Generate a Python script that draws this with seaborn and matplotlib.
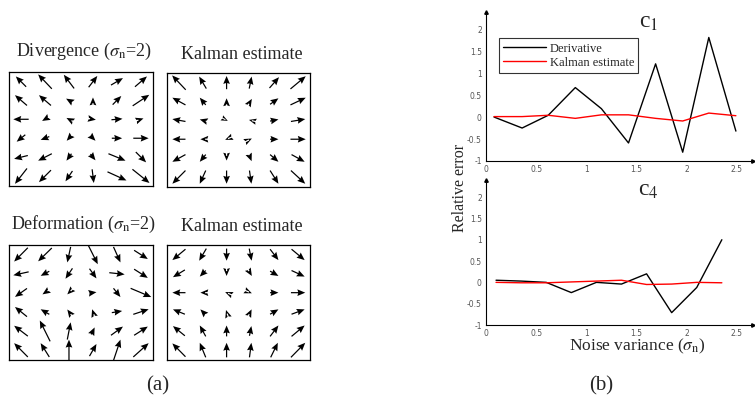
import numpy as np
import pandas as pd
import matplotlib
matplotlib.use('Agg')
import matplotlib.pyplot as plt
import seaborn as sns

# ---- quiver fields (6x6, rows top -> bottom) ----
grid_x = [0.5, 1.5, 2.5, 3.5, 4.5, 5.5]
grid_y = [4.35, 3.57, 2.78, 1.99, 1.20, 0.41]

div_u = [[-0.43, -0.57, -0.43, 0.36, 0.50, 0.50],
         [-0.50, -0.50, -0.24, 0.00, 0.36, 0.69],
         [-0.64, -0.24, -0.21, 0.24, 0.46, 0.21],
         [-0.36, -0.36, -0.19, 0.21, 0.43, 0.64],
         [-0.57, -0.57, -0.21, 0.21, 0.71, 0.43],
         [-0.50, -0.50, -0.29, 0.07, 0.79, 0.71]]
div_v = [[0.43, 0.60, 0.57, 0.47, 0.29, 0.43],
         [0.43, 0.43, 0.14, 0.24, 0.36, 0.46],
         [0.00, -0.14, 0.11, -0.04, 0.04, 0.07],
         [-0.29, -0.14, -0.21, -0.21, 0.00, 0.00],
         [-0.14, -0.29, -0.29, -0.26, -0.29, -0.43],
         [-0.64, -0.50, -0.43, -0.57, -0.36, -0.57]]

kdiv_u = [[-0.57, -0.30, 0.00, 0.10, 0.40, 0.64],
          [-0.55, -0.25, 0.00, 0.12, 0.35, 0.64],
          [-0.55, -0.25, 0.10, -0.12, 0.35, 0.60],
          [-0.55, -0.20, -0.12, 0.12, 0.35, 0.64],
          [-0.55, -0.25, 0.00, 0.10, 0.35, 0.55],
          [-0.55, -0.25, 0.00, 0.08, 0.35, 0.60]]
kdiv_v = [[0.60, 0.50, 0.55, 0.50, 0.45, 0.53],
          [0.30, 0.30, 0.25, 0.20, 0.25, 0.30],
          [0.10, 0.07, -0.05, 0.03, 0.07, 0.10],
          [0.00, 0.00, -0.05, 0.06, 0.00, 0.00],
          [-0.30, -0.30, -0.20, -0.25, -0.30, -0.30],
          [-0.55, -0.55, -0.55, -0.55, -0.55, -0.55]]

def_u = [[-0.57, -0.57, -0.14, 0.40, 0.29, 0.57],
         [-0.64, -0.36, -0.29, 0.29, 0.64, 0.57],
         [-0.50, -0.21, -0.14, 0.29, 0.29, 0.86],
         [-0.50, -0.36, -0.14, -0.07, 0.43, 0.64],
         [-0.57, -0.43, 0.14, 0.14, 0.50, 0.57],
         [-0.57, -0.36, 0.00, 0.29, 0.29, 0.64]]
def_v = [[-0.57, -0.55, -0.64, -0.79, -0.64, -0.36],
         [-0.14, -0.19, -0.43, -0.40, -0.07, -0.36],
         [-0.35, -0.14, -0.14, 0.04, -0.36, -0.36],
         [0.40, 0.21, 0.19, 0.21, 0.07, 0.21],
         [0.43, 0.86, 0.71, 0.29, 0.36, 0.36],
         [0.57, 0.57, 0.86, 0.50, 0.86, 0.57]]

kdef_u = [[-0.55, -0.30, 0.00, 0.10, 0.35, 0.55],
          [-0.50, -0.25, 0.00, 0.12, 0.35, 0.55],
          [-0.55, -0.20, -0.12, 0.12, 0.35, 0.60],
          [-0.50, -0.20, -0.05, 0.10, 0.35, 0.55],
          [-0.50, -0.25, 0.00, 0.08, 0.35, 0.55],
          [-0.55, -0.25, 0.00, 0.08, 0.30, 0.60]]
kdef_v = [[-0.45, -0.50, -0.50, -0.50, -0.45, -0.45],
          [-0.30, -0.25, -0.20, -0.20, -0.20, -0.25],
          [0.00, 0.00, 0.05, -0.05, 0.00, 0.00],
          [0.20, 0.20, 0.15, 0.20, 0.20, 0.20],
          [0.40, 0.45, 0.45, 0.40, 0.45, 0.45],
          [0.55, 0.60, 0.60, 0.60, 0.60, 0.60]]

# ---- relative error curves ----
c1_x = [0.08, 0.36, 0.62, 0.89, 1.15, 1.42, 1.69, 1.96, 2.22, 2.49]
c1_deriv = [0.00, -0.25, 0.04, 0.67, 0.19, -0.59, 1.21, -0.80, 1.81, -0.32]
c1_kalman = [0.01, 0.01, 0.04, -0.03, 0.05, 0.05, -0.03, -0.09, 0.09, 0.03]

c4_x = [0.10, 0.35, 0.60, 0.85, 1.10, 1.35, 1.60, 1.85, 2.10, 2.35]
c4_deriv = [0.05, 0.03, 0.00, -0.24, 0.00, -0.04, 0.20, -0.71, -0.12, 1.00]
c4_kalman = [0.00, -0.01, -0.01, 0.01, 0.03, 0.05, -0.05, -0.04, 0.00, -0.01]

sns.set_style('white')
plt.rcParams['font.family'] = ['Liberation Serif', 'DejaVu Serif']
plt.rcParams['mathtext.fontset'] = 'stix'

fig = plt.figure(figsize=(7.55, 3.98), dpi=100)

def field(rect, u, v, title):
    ax = fig.add_axes(rect)
    X, Y = np.meshgrid(grid_x, grid_y)
    ax.quiver(X, Y, np.array(u), np.array(v), angles='xy', scale_units='xy',
              scale=1, pivot='mid', color='black', width=0.0085,
              headwidth=5.5, headlength=6.5, headaxislength=5.8,
              minshaft=0.4, minlength=0.3)
    ax.set_xlim(0, 6)
    ax.set_ylim(0, 4.75)
    ax.set_xticks([])
    ax.set_yticks([])
    for s in ax.spines.values():
        s.set_visible(True)
        s.set_color('black')
        s.set_linewidth(0.9)
    ax.text(0.52, 1.09, title, transform=ax.transAxes, ha='center', va='bottom',
            fontsize=13)
    return ax

field([0.0119, 0.5327, 0.1907, 0.2864], div_u, div_v, r'Divergence ($\sigma_{\rm n}$=2)')
field([0.2212, 0.5302, 0.1894, 0.2864], kdiv_u, kdiv_v, 'Kalman estimate')
field([0.0119, 0.0955, 0.1907, 0.2890], def_u, def_v, r'Deformation ($\sigma_{\rm n}$=2)')
field([0.2212, 0.0955, 0.1894, 0.2890], kdef_u, kdef_v, 'Kalman estimate')


def err_panel(rect, x, deriv, kalman, label, ytop, legend):
    ax = fig.add_axes(rect)
    df = pd.DataFrame({'x': x + x,
                       'y': deriv + kalman,
                       'series': ['Derivative'] * len(x) + ['Kalman estimate'] * len(x)})
    sns.lineplot(data=df, x='x', y='y', hue='series',
                 palette={'Derivative': 'black', 'Kalman estimate': '#ff0000'},
                 linewidth=1.0, ax=ax, legend=legend)
    ax.set_xlim(0, 2.66)
    ax.set_ylim(-1, ytop)
    ax.set_xticks([0, 0.5, 1, 1.5, 2, 2.5])
    ax.set_xticklabels(['0', '0.5', '1', '1.5', '2', '2.5'])
    ax.set_yticks([-1, -0.5, 0, 0.5, 1, 1.5, 2])
    ax.set_yticklabels(['-1', '-0.5', '0', '0.5', '1', '1.5', '2'])
    ax.tick_params(length=0, labelsize=5.5, colors='#555555', pad=3)
    for t in ax.get_xticklabels() + ax.get_yticklabels():
        t.set_family('DejaVu Sans')
    ax.set_xlabel('')
    ax.set_ylabel('')
    for side in ['top', 'right']:
        ax.spines[side].set_visible(False)
    for side in ['left', 'bottom']:
        ax.spines[side].set_color('black')
        ax.spines[side].set_linewidth(0.8)
    ax.plot(1, 0, '>', color='black', ms=2.5, transform=ax.transAxes, clip_on=False)
    ax.plot(0, 1, '^', color='black', ms=2.5, transform=ax.transAxes, clip_on=False)
    ax.text(0.61, 0.93, label, transform=ax.transAxes, ha='center', va='center',
            fontsize=17)
    if legend:
        ax.legend(loc='upper left', bbox_to_anchor=(0.025, 0.865), fontsize=9,
                  frameon=True, fancybox=False, edgecolor='black', handlelength=3.4,
                  borderpad=0.35, labelspacing=0.15, handletextpad=0.3, title=None)
        ax.get_legend().get_frame().set_linewidth(0.8)
    return ax

err_panel([0.6437, 0.5955, 0.3536, 0.3744], c1_x, c1_deriv, c1_kalman,
          r'c$_1$', 2.39, 'brief')
err_panel([0.6437, 0.1834, 0.3536, 0.3643], c4_x, c4_deriv, c4_kalman,
          r'c$_4$', 2.40, False)

fig.text(460 / 755, 1 - 188 / 398, 'Relative error', rotation=90, ha='center',
         va='center', fontsize=11.5)
fig.text(637 / 755, 1 - 337 / 398, r'Noise variance ($\sigma_{\rm n}$)', ha='center',
         va='top', fontsize=12.5)
fig.text(158 / 755, 1 - 386 / 398, '(a)', ha='center', va='center', fontsize=15)
fig.text(601 / 755, 1 - 386 / 398, '(b)', ha='center', va='center', fontsize=15)

fig.savefig('out.png', dpi=100)
